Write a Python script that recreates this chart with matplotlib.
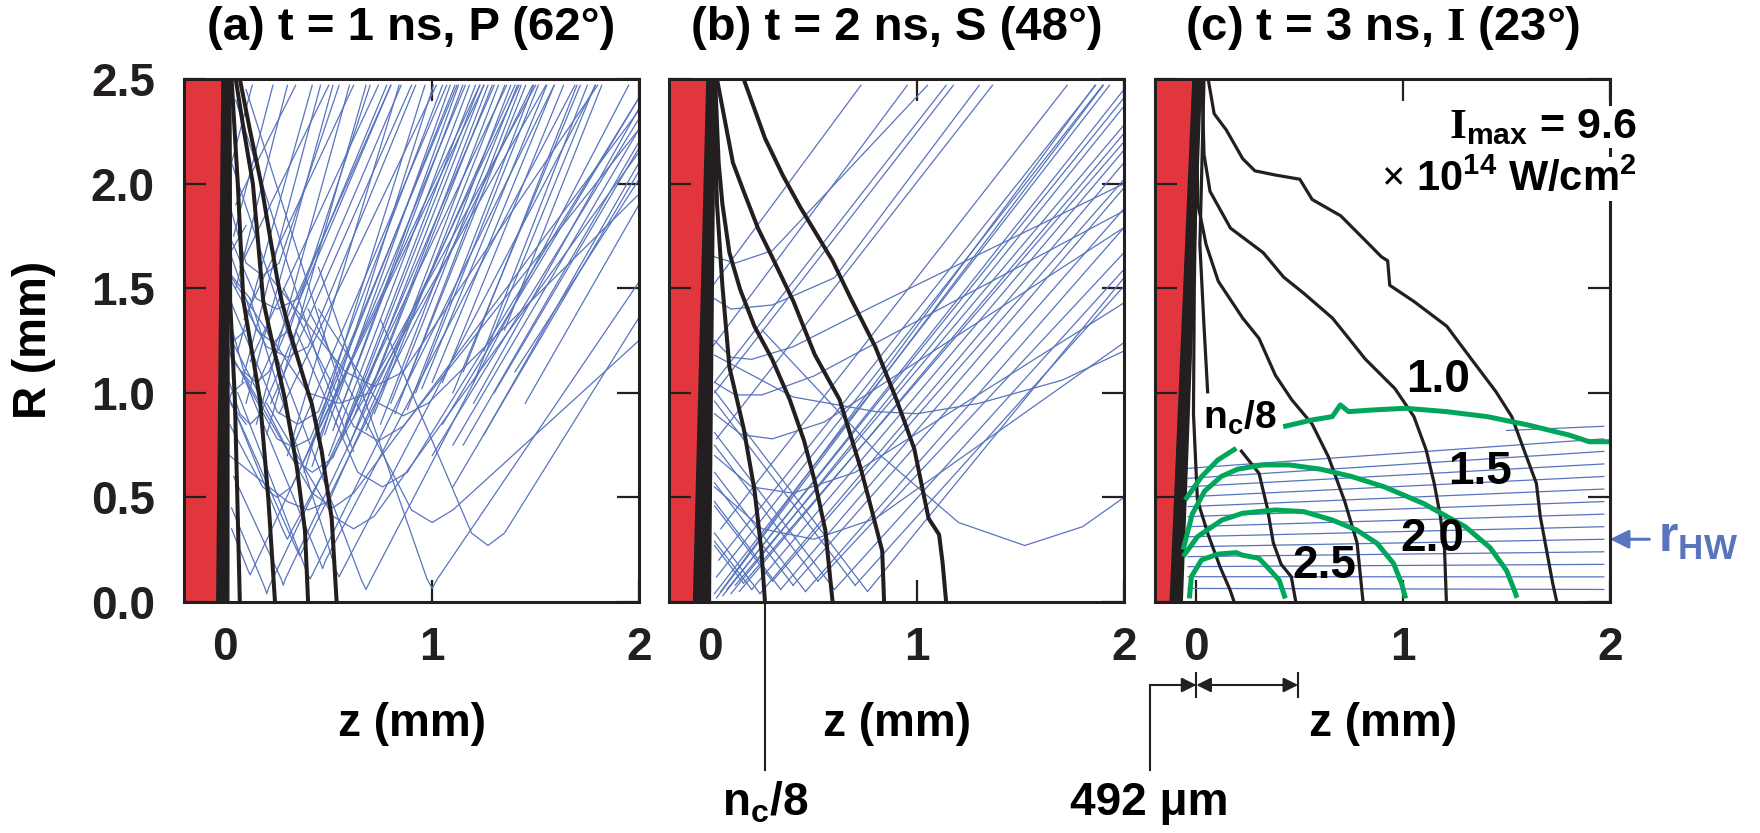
import matplotlib
matplotlib.use("Agg")
import matplotlib.pyplot as plt
from matplotlib.patches import Polygon
from matplotlib.transforms import blended_transform_factory

plt.rcParams["font.family"] = ["Liberation Sans", "DejaVu Sans"]
plt.rcParams["font.weight"] = "bold"
plt.rcParams["mathtext.fontset"] = "custom"
plt.rcParams["mathtext.rm"] = "Liberation Serif:bold"
plt.rcParams["mathtext.bf"] = "Liberation Sans:bold"
plt.rcParams["mathtext.it"] = "Liberation Sans:bold:italic"
plt.rcParams["mathtext.sf"] = "Liberation Sans:bold"

RED = "#e2363f"
BLUE = "#5874bd"
GREEN = "#00a65a"
BLACK = "#231f20"

# ---------------------------------------------------------------------------
# Data (z in mm, R in mm)
# ---------------------------------------------------------------------------
titles = ["(a) t = 1 ns, P (62°)", "(b) t = 2 ns, S (48°)",
          r"(c) t = 3 ns, $\mathrm{I}$ (23°)"]
x_ticks = [0, 1, 2]
y_ticks = [0.0, 0.5, 1.0, 1.5, 2.0, 2.5]
y_ticklabels = ["0.0", "0.5", "1.0", "1.5", "2.0", "2.5"]

# target (red) and ablation front (black wedge)
red_a = [(-0.2, 0.0), (-0.2, 2.5), (0.0, 2.5), (-0.02, 0.0)]
red_b = [(-0.2, 0.0), (-0.2, 2.5), (0.0, 2.5), (-0.03, 0.0)]
red_c = [(-0.2, 0.0), (-0.2, 2.5), (0.0, 2.5), (-0.1, 0.0)]
wedge_a = [(-0.02, 2.5), (0.022, 2.5), (0.02, 0.0), (-0.045, 0.0)]
wedge_b = [(-0.02, 2.5), (0.027, 2.5), (0.003, 0.0), (-0.085, 0.0)]
wedge_c = [(-0.02, 2.5), (0.028, 2.5), (-0.065, 0.0), (-0.13, 0.0)]

# density contours
cont_a = [
    ([0.02, 0.022, 0.023, 0.046, 0.058, 0.07], [2.5, 2.0, 1.44, 0.97, 0.49, 0.0]),
    ([0.03, 0.06, 0.087, 0.167, 0.208, 0.24], [2.5, 2.0, 1.44, 0.97, 0.49, 0.0]),
    ([0.05, 0.09, 0.133, 0.16, 0.183, 0.216, 0.288, 0.345, 0.385, 0.40],
     [2.5, 2.25, 2.0, 1.7, 1.44, 1.29, 0.97, 0.65, 0.34, 0.0]),
    ([0.07, 0.12, 0.173, 0.215, 0.25, 0.272, 0.312, 0.385, 0.417, 0.466, 0.514, 0.538],
     [2.5, 2.25, 2.0, 1.75, 1.55, 1.44, 1.29, 1.05, 0.95, 0.72, 0.40, 0.0]),
]
cont_b = [
    ([0.015, 0.032, 0.058, 0.092, 0.161, 0.213, 0.247, 0.264],
     [2.5, 1.904, 1.514, 1.123, 0.83, 0.537, 0.244, 0.0]),
    ([0.023, 0.04, 0.058, 0.092, 0.144, 0.213, 0.298, 0.384, 0.453, 0.505, 0.556, 0.591],
     [2.5, 2.1, 1.904, 1.67, 1.494, 1.318, 1.162, 0.967, 0.771, 0.576, 0.342, 0.0]),
    ([0.032, 0.109, 0.161, 0.23, 0.298, 0.402, 0.505, 0.625, 0.728, 0.78, 0.831, 0.84],
     [2.5, 2.1, 1.963, 1.787, 1.65, 1.436, 1.182, 0.967, 0.635, 0.44, 0.244, 0.0]),
    ([0.161, 0.264, 0.35, 0.436, 0.591, 0.677, 0.797, 0.9, 0.986, 1.055, 1.106, 1.123, 1.14],
     [2.5, 2.217, 2.04, 1.885, 1.631, 1.455, 1.221, 0.967, 0.732, 0.4, 0.322, 0.186, 0.0]),
]
cont_c = [
    ([0.057, 0.086, 0.145, 0.224, 0.283, 0.382, 0.5, 0.56, 0.698, 0.816, 0.895, 0.925, 0.935,
      1.053, 1.211, 1.329, 1.448, 1.525, 1.584, 1.644, 1.663, 1.693, 1.723, 1.743],
     [2.5, 2.334, 2.256, 2.119, 2.061, 2.041, 2.021, 1.924, 1.846, 1.729, 1.65, 1.631, 1.514,
      1.436, 1.318, 1.162, 1.006, 0.886, 0.727, 0.567, 0.408, 0.249, 0.089, 0.0]),
    ([0.027, 0.037, 0.066, 0.165, 0.323, 0.422, 0.52, 0.658, 0.737, 0.816, 0.895, 0.96,
      1.052, 1.111, 1.150, 1.180, 1.200, 1.209],
     [2.5, 2.139, 1.963, 1.787, 1.67, 1.553, 1.475, 1.357, 1.26, 1.162, 1.084, 1.02,
      0.886, 0.727, 0.567, 0.408, 0.249, 0.0]),
    ([0.0, 0.007, 0.047, 0.106, 0.224, 0.303, 0.382, 0.461, 0.56, 0.639, 0.718, 0.777, 0.806],
     [2.3, 1.904, 1.709, 1.533, 1.357, 1.26, 1.084, 0.967, 0.85, 0.693, 0.479, 0.283, 0.0]),
    ([0.037, 0.027, 0.017, 0.037, 0.055], [2.5, 2.1, 1.709, 1.318, 0.997]),
    ([0.213, 0.303, 0.343, 0.372, 0.41, 0.459, 0.481], [0.727, 0.615, 0.45, 0.283, 0.18, 0.121, 0.0]),
    ([0.0, -0.01, -0.014, 0.005, 0.055, 0.114, 0.163, 0.183],
     [2.2, 1.5, 0.9, 0.488, 0.328, 0.169, 0.057, 0.0]),
]

# intensity contours (panel c)
green_c = [
    ([0.42, 0.558, 0.657, 0.696, 0.736, 0.854, 1.012, 1.209, 1.407, 1.604, 1.802, 1.9, 1.999],
     [0.838, 0.870, 0.886, 0.942, 0.910, 0.918, 0.926, 0.910, 0.886, 0.846, 0.798, 0.766, 0.766]),
    ([-0.054, 0.025, 0.104, 0.193], [0.488, 0.599, 0.679, 0.735]),
    ([-0.064, -0.02, 0.04, 0.12, 0.2, 0.32, 0.45, 0.6, 0.75, 0.91, 1.1, 1.3, 1.42, 1.5, 1.54, 1.55],
     [0.25, 0.42, 0.53, 0.6, 0.635, 0.655, 0.655, 0.635, 0.6, 0.55, 0.47, 0.36, 0.26, 0.15, 0.05, 0.02]),
    ([-0.064, 0.005, 0.124, 0.223, 0.380, 0.519, 0.657, 0.775, 0.874, 0.953, 0.992, 1.012],
     [0.217, 0.312, 0.392, 0.424, 0.440, 0.432, 0.392, 0.344, 0.28, 0.185, 0.089, 0.017]),
    ([-0.034, -0.024, 0.025, 0.104, 0.193, 0.223, 0.302, 0.341, 0.400, 0.430],
     [0.017, 0.121, 0.201, 0.229, 0.236, 0.224, 0.209, 0.169, 0.105, 0.017]),
]
green_labels = ["1.0", "1.5", "2.0", "2.5"]
green_label_z = [1.17, 1.37, 1.14, 0.62]
green_label_R = [1.06, 0.62, 0.30, 0.17]

# ray paths, panel (a)
rays_a = [
    [(0.45, 1.60), (0.975, 0.11), (1.00, 0.065), (1.025, 0.11), (2.0, 1.53)],
    [(0.75, 1.35), (1.19, 0.33), (1.27, 0.27), (1.35, 0.33), (2.0, 1.36)],
    [(0.20, 1.30), (0.66, 0.10), (0.68, 0.06), (0.70, 0.10), (1.95, 2.47)],
    [(0.12, 1.45), (0.535, 0.15), (0.55, 0.12), (0.565, 0.15), (1.79, 2.47)],
    [(0.10, 1.05), (0.455, 0.20), (0.47, 0.16), (0.485, 0.20), (1.69, 2.47)],
    [(0.06, 1.00), (0.395, 0.14), (0.41, 0.11), (0.425, 0.14), (1.59, 2.47)],
    [(0.02, 0.97), (0.34, 0.26), (0.36, 0.22), (0.38, 0.26), (1.485, 2.47)],
    [(0.04, 0.60), (0.27, 0.11), (0.28, 0.08), (0.29, 0.11), (1.42, 2.47)],
    [(0.03, 0.45), (0.19, 0.07), (0.20, 0.04), (0.21, 0.07), (1.36, 2.47)],
    [(0.03, 0.35), (0.11, 0.15), (0.12, 0.13), (0.13, 0.15), (1.23, 2.47)],
    [(0.03, 0.95), (0.28, 0.34), (0.30, 0.30), (0.32, 0.34), (1.50, 2.47)],
    [(0.34, 1.30), (0.64, 0.62), (0.76, 0.55), (0.88, 0.62), (2.0, 2.41)],
    [(0.28, 1.50), (0.62, 0.84), (0.74, 0.77), (0.86, 0.84), (2.0, 2.26)],
    [(0.45, 1.40), (0.74, 0.95), (0.86, 0.89), (0.98, 0.95), (2.0, 1.95)],
    [(0.22, 1.55), (0.58, 1.10), (0.72, 1.03), (0.86, 1.10), (1.80, 2.47)],
    [(0.20, 0.95), (0.52, 0.41), (0.62, 0.35), (0.72, 0.41), (2.0, 2.15)],
    [(0.08, 1.10), (0.42, 0.52), (0.52, 0.45), (0.62, 0.52), (2.0, 2.35)],
    [(0.03, 1.25), (0.32, 0.69), (0.42, 0.62), (0.52, 0.69), (1.30, 2.47)],
    [(0.03, 1.65), (0.15, 1.30), (0.23, 1.24), (0.31, 1.30), (0.70, 2.47)],
    [(0.02, 1.35), (0.09, 1.10), (0.15, 1.05), (0.21, 1.10), (0.80, 2.47)],
    [(0.02, 1.05), (0.07, 0.90), (0.12, 0.85), (0.17, 0.90), (0.85, 2.47)],
    [(0.02, 1.45), (0.25, 0.91), (0.35, 0.85), (0.45, 0.91), (1.05, 2.47)],
    [(0.40, 1.40), (0.90, 0.44), (1.00, 0.38), (1.10, 0.44), (2.0, 1.25)],
    [(0.02, 1.90), (0.10, 1.62), (0.18, 1.56), (0.26, 1.62), (0.55, 2.47)],
    [(0.02, 1.75), (0.15, 1.45), (0.25, 1.40), (0.35, 1.45), (0.78, 2.47)],
    [(0.02, 1.55), (0.20, 1.22), (0.30, 1.17), (0.40, 1.22), (0.92, 2.47)],
    [(0.02, 1.20), (0.25, 0.78), (0.33, 0.74), (0.41, 0.78), (1.12, 2.47)],
    [(0.02, 0.85), (0.18, 0.55), (0.25, 0.50), (0.32, 0.55), (1.25, 2.47)],
    [(0.02, 0.70), (0.30, 0.48), (0.40, 0.44), (0.50, 0.48), (1.40, 2.47)],
    [(0.03, 1.55), (0.40, 1.00), (0.55, 0.95), (0.70, 1.00), (1.55, 2.47)],
    [(0.10, 1.80), (0.03, 1.68), (0.015, 1.62), (0.03, 1.56), (0.12, 1.45)],
    [(0.10, 1.30), (0.03, 1.24), (0.02, 1.20), (0.03, 1.16), (0.12, 1.05)],
    [(0.09, 1.05), (0.03, 1.00), (0.02, 0.97), (0.03, 0.94), (0.10, 0.85)],
    [(0.05, 2.40), (0.45, 1.15), (0.62, 0.72)],
    [(0.10, 2.45), (0.55, 1.05)],
    [(0.03, 2.10), (0.33, 1.20)],
]
exit_a = [  # (z0, R0, z1, R1)
    (0.03, 2.10, 0.13, 2.47), (0.04, 1.75, 0.23, 2.47), (0.05, 1.50, 0.30, 2.47),
    (0.06, 1.20, 0.42, 2.47), (0.08, 1.05, 0.46, 2.47), (0.10, 0.95, 0.52, 2.47),
    (0.15, 0.85, 0.60, 2.47), (0.20, 0.80, 0.68, 2.47), (0.30, 0.70, 0.84, 2.47),
    (0.38, 0.62, 0.965, 2.47), (0.42, 0.65, 1.006, 2.47), (0.48, 0.80, 1.087, 2.47),
    (0.52, 0.82, 1.127, 2.47), (0.53, 0.85, 1.148, 2.47), (0.58, 0.85, 1.209, 2.47),
    (0.62, 0.88, 1.249, 2.47), (0.66, 0.90, 1.29, 2.47), (0.72, 0.90, 1.351, 2.47),
    (0.80, 0.95, 1.412, 2.47), (0.85, 0.98, 1.452, 2.47), (0.92, 1.00, 1.513, 2.47),
    (0.95, 1.02, 1.554, 2.47), (1.05, 1.05, 1.635, 2.47), (1.10, 1.00, 1.716, 2.47),
    (1.20, 1.05, 1.787, 2.47), (1.05, 0.85, 2.0, 2.41), (1.00, 0.70, 2.0, 2.31),
    (1.10, 0.75, 2.0, 2.26), (1.15, 0.75, 2.0, 2.20), (1.10, 0.55, 2.0, 2.06),
    (0.05, 1.90, 0.34, 2.47), (0.07, 1.60, 0.50, 2.47), (0.09, 1.35, 0.62, 2.47),
    (0.12, 1.15, 0.74, 2.47), (0.16, 1.05, 0.80, 2.47), (0.22, 0.95, 0.90, 2.47),
    (0.26, 0.90, 1.02, 2.47), (0.33, 0.75, 1.07, 2.47), (0.40, 0.72, 1.11, 2.47),
    (0.45, 0.78, 1.16, 2.47), (0.50, 0.70, 1.18, 2.47), (0.56, 0.78, 1.23, 2.47),
    (0.60, 0.75, 1.27, 2.47), (0.68, 0.82, 1.32, 2.47), (0.75, 0.85, 1.38, 2.47),
    (0.82, 0.90, 1.43, 2.47), (0.88, 0.92, 1.49, 2.47), (1.00, 1.05, 1.59, 2.47),
    (1.15, 1.10, 1.70, 2.47), (1.25, 1.20, 1.75, 2.47), (1.35, 1.30, 1.82, 2.47),
    (1.20, 0.95, 2.0, 2.36), (1.30, 1.00, 2.0, 2.17), (1.25, 0.80, 2.0, 2.10),
    (1.40, 1.10, 2.0, 2.02), (1.45, 0.95, 2.0, 1.90),
]

# ray paths, panel (b)
rays_b = [
    [(0.02, 0.96), (0.70, 0.08)], [(0.02, 0.81), (0.60, 0.06)], [(0.02, 0.75), (0.52, 0.10)],
    [(0.02, 0.62), (0.46, 0.05)], [(0.02, 0.57), (0.40, 0.08)], [(0.02, 0.48), (0.34, 0.06)],
    [(0.02, 0.46), (0.30, 0.10)], [(0.02, 0.33), (0.24, 0.04)], [(0.02, 0.29), (0.20, 0.06)],
    [(0.02, 0.27), (0.16, 0.09)], [(0.02, 1.01), (0.76, 0.05), (2.0, 1.55)],
    [(0.25, 1.30), (0.80, 0.72), (1.20, 0.38), (1.52, 0.27), (1.80, 0.36), (2.0, 0.50)],
    [(0.02, 1.18), (0.40, 0.98), (0.80, 0.91), (1.00, 0.90), (1.30, 0.95), (1.70, 1.06), (2.0, 1.20)],
    [(0.02, 1.25), (0.10, 1.17), (0.20, 1.16), (0.40, 1.22), (0.80, 1.42), (2.0, 2.0)],
    [(0.02, 1.05), (0.12, 0.99), (0.25, 0.99), (0.50, 1.08), (2.0, 1.87)],
    [(0.02, 0.90), (0.15, 0.80), (0.30, 0.78), (0.55, 0.86), (2.0, 1.79)],
    [(0.02, 0.70), (0.20, 0.55), (0.40, 0.52), (0.70, 0.62), (2.0, 1.43)],
    [(0.02, 0.55), (0.25, 0.35), (0.50, 0.30), (0.80, 0.40), (2.0, 1.24)],
    [(0.02, 1.45), (0.10, 1.40), (0.30, 1.42), (0.60, 1.55), (1.30, 2.47)],
    [(0.02, 1.65), (0.12, 1.62), (0.30, 1.68), (1.05, 2.47)],
]
exit_b = [
    (0.02, 0.04, 1.93, 2.47), (0.03, 0.02, 1.90, 2.47), (0.05, 0.05, 1.86, 2.47),
    (0.06, 0.03, 2.0, 2.45), (0.08, 0.06, 2.0, 2.41), (0.10, 0.04, 2.0, 2.37),
    (0.12, 0.08, 2.0, 2.28), (0.14, 0.05, 2.0, 2.24), (0.16, 0.09, 2.0, 2.20),
    (0.20, 0.06, 2.0, 2.16), (0.24, 0.04, 2.0, 2.10), (0.30, 0.10, 2.0, 2.02),
    (0.34, 0.06, 2.0, 1.98), (0.40, 0.08, 2.0, 1.88), (0.46, 0.05, 2.0, 1.79),
    (0.52, 0.10, 2.0, 1.67), (0.60, 0.06, 2.0, 1.59), (0.70, 0.08, 2.0, 1.51),
    (0.01, 1.51, 0.728, 2.47), (0.01, 1.22, 0.952, 2.47), (0.02, 1.05, 1.14, 2.47),
    (0.02, 1.00, 1.175, 2.47), (0.03, 0.78, 1.364, 2.47), (0.05, 0.35, 1.725, 2.47),
    (0.04, 0.20, 1.863, 2.47), (0.03, 0.12, 1.897, 2.47),
]

# nearly axial beam rays, panel (c)
beam_c_z0 = [1.50, -0.04, -0.04, -0.04, -0.04, -0.04, -0.04, -0.04, -0.04, -0.04, -0.04,
             -0.04, -0.04, -0.04]
beam_c_R0 = [0.82, 0.639, 0.591, 0.551, 0.503, 0.456, 0.408, 0.36, 0.312, 0.264, 0.217,
             0.169, 0.121, 0.065]
beam_c_z1 = 1.97
beam_c_R1 = [0.84, 0.78, 0.72, 0.66, 0.60, 0.54, 0.48, 0.42, 0.36, 0.30, 0.24, 0.18, 0.12, 0.06]

nc8_z_b = 0.264      # n_c/8 at R = 0, panel (b)
nc8_z_c = 0.492      # 492 um, panel (c)
r_hw = 0.30

# ---------------------------------------------------------------------------
# Figure
# ---------------------------------------------------------------------------
W, H = 1760, 833
fig = plt.figure(figsize=(W / 100, H / 100), dpi=100)
AX_X = [184, 669, 1155]
AX_BOTTOM, AX_W, AX_H = 602, 455, 523
axes = [fig.add_axes([x / W, 1 - AX_BOTTOM / H, AX_W / W, AX_H / H]) for x in AX_X]

reds = [red_a, red_b, red_c]
wedges = [wedge_a, wedge_b, wedge_c]
conts = [cont_a, cont_b, cont_c]

for i, ax in enumerate(axes):
    ax.set_xlim(-0.2, 2.0)
    ax.set_ylim(0, 2.5)
    ax.set_xticks(x_ticks)
    ax.set_xticklabels([str(t) for t in x_ticks])
    ax.set_yticks(y_ticks)
    ax.set_yticklabels(y_ticklabels if i == 0 else [])
    ax.tick_params(direction="in", length=16, width=1.6, top=True, right=True,
                   labelsize=33, color=BLACK, labelcolor=BLACK)
    ax.tick_params(axis="x", pad=17)
    ax.tick_params(axis="y", pad=21)
    for s in ax.spines.values():
        s.set_linewidth(2.2)
        s.set_color(BLACK)
        s.set_zorder(6)
    ax.add_patch(Polygon(reds[i], closed=True, facecolor=RED, edgecolor="none", zorder=1))
    ax.add_patch(Polygon(wedges[i], closed=True, facecolor=BLACK, edgecolor="none", zorder=3.5))
    lw = 2.9 if i < 2 else 2.3
    for zs, rs in conts[i]:
        ax.plot(zs, rs, color=BLACK, lw=lw, zorder=3, solid_capstyle="butt")
    cx = (AX_X[i] + AX_W / 2) / W
    fig.text(cx, 1 - 28 / H, titles[i], ha="center", va="center", fontsize=34)
    fig.text(cx, 1 - 724 / H, "z (mm)", ha="center", va="center", fontsize=33)

fig.text(34 / W, 1 - 340 / H, "R (mm)", rotation=90, ha="center", va="center", fontsize=33)

# rays
for ax, rays, exits in [(axes[0], rays_a, exit_a), (axes[1], rays_b, exit_b)]:
    for ray in rays:
        ax.plot([p[0] for p in ray], [p[1] for p in ray], color=BLUE, lw=0.9, zorder=2)
    for z0, r0, z1, r1 in exits:
        ax.plot([z0, z1], [r0, r1], color=BLUE, lw=0.9, zorder=2)

axc = axes[2]
for z0, r0, r1 in zip(beam_c_z0, beam_c_R0, beam_c_R1):
    axc.plot([z0, beam_c_z1], [r0, r1], color=BLUE, lw=0.9, zorder=2)
for zs, rs in green_c:
    axc.plot(zs, rs, color=GREEN, lw=3.6, zorder=4, solid_capstyle="butt")
for lab, z, r in zip(green_labels, green_label_z, green_label_R):
    axc.text(z, r, lab, ha="center", va="center", fontsize=33, zorder=5)
axc.text(0.03, 0.88, r"$\mathbf{n_c/8}$", ha="left", va="center", fontsize=28, zorder=5)
axc.text(2.13, 2.27, r"$\mathrm{I}_{\mathbf{max}}$ = 9.6", ha="right", va="center", fontsize=31,
         zorder=7, clip_on=False,
         bbox=dict(facecolor="white", edgecolor="none", pad=1))
axc.text(2.13, 2.02, r"$\times$ 10$^{\mathbf{14}}$ W/cm$^{\mathbf{2}}$", ha="right", va="center",
         fontsize=30, zorder=7, clip_on=False,
         bbox=dict(facecolor="white", edgecolor="none", pad=1))
axc.annotate("", xy=(2.0, r_hw), xytext=(2.19, r_hw),
             arrowprops=dict(arrowstyle="-|>", color=BLUE, lw=2.2, mutation_scale=28,
                             shrinkA=0, shrinkB=0), annotation_clip=False)
axc.text(2.23, r_hw, r"$\mathbf{r_{HW}}$", color=BLUE, ha="left", va="center", fontsize=36,
         clip_on=False)

# n_c/8 marker below panel (b)
tb = blended_transform_factory(axes[1].transData, fig.transFigure)
axes[1].plot([nc8_z_b, nc8_z_b], [1 - 602 / H, 1 - 770 / H], transform=tb, color=BLACK,
             lw=1.5, clip_on=False)
fig.text(765 / W, 1 - 803 / H, r"$\mathbf{n_c/8}$", ha="center", va="center", fontsize=33)

# 492 um marker below panel (c)
tc = blended_transform_factory(axc.transData, fig.transFigure)
ya = 1 - 685 / H
axc.plot([-0.224, -0.224], [ya, 1 - 770 / H], transform=tc, color=BLACK, lw=1.5, clip_on=False)
axc.annotate("", xy=(0.0, ya), xytext=(-0.224, ya), xycoords=tc, textcoords=tc,
             arrowprops=dict(arrowstyle="-|>", color=BLACK, lw=1.5, mutation_scale=22,
                             shrinkA=0, shrinkB=0))
axc.annotate("", xy=(nc8_z_c, ya), xytext=(0.0, ya), xycoords=tc, textcoords=tc,
             arrowprops=dict(arrowstyle="<|-|>", color=BLACK, lw=1.5, mutation_scale=22,
                             shrinkA=0, shrinkB=0))
for zt in [0.0, nc8_z_c]:
    axc.plot([zt, zt], [1 - 673 / H, 1 - 697 / H], transform=tc, color=BLACK, lw=1.5,
             clip_on=False)
fig.text(1149 / W, 1 - 803 / H, "492 μm", ha="center", va="center", fontsize=33)

fig.savefig("out.png", dpi=100)
